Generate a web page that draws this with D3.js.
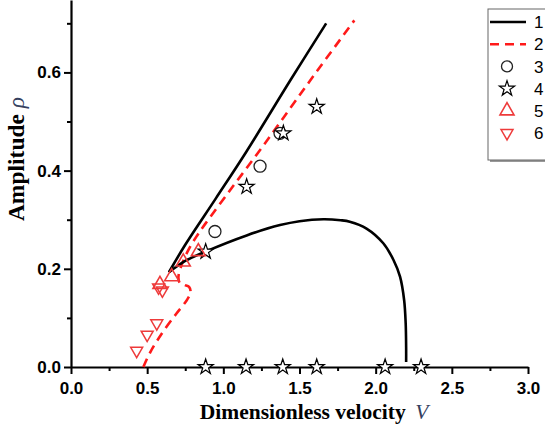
<!DOCTYPE html>
<html>
<head>
<meta charset="utf-8">
<script src="https://cdn.jsdelivr.net/npm/d3@7"></script>
<style>
  body { margin: 0; background: #fff; }
  .tick text { font-family: "Liberation Sans", Arial, sans-serif; font-weight: bold; font-size: 17px; fill: #000; }
</style>
</head>
<body>
<script>
// [V, rho] pairs
var curve1Upper = [[0.643,0.193],[0.75,0.249],[0.95,0.343],[1.15,0.438],[1.44,0.584],[1.675,0.70]];
var curve1Lower = [[0.643,0.193],[0.75,0.216],[0.89,0.236],[1.153,0.268],[1.372,0.289],[1.50,0.297],[1.657,0.301],[1.77,0.299],[1.83,0.296],[1.94,0.282],[2.05,0.252],[2.117,0.218],[2.16,0.184],[2.187,0.136],[2.197,0.089],[2.20,0.04],[2.20,0.01]];
var curve2 = [[0.475,0.0],[0.52,0.03],[0.60,0.07],[0.69,0.108],[0.76,0.136],[0.785,0.152],[0.775,0.163],[0.745,0.167],[0.715,0.171],[0.705,0.182],[0.725,0.207],[0.77,0.238],[0.82,0.264],[0.88,0.291],[1.044,0.36],[1.208,0.428],[1.372,0.498],[1.59,0.592],[1.86,0.706]];
var circles = [[0.945,0.276],[1.241,0.409],[1.372,0.476]];
var stars = [[0.884,0.235],[1.153,0.367],[1.394,0.476],[1.613,0.53],
             [0.884,0],[1.149,0],[1.39,0],[1.613,0],[2.062,0],[2.298,0]];
var triUp = [[0.584,0.168],[0.661,0.184],[0.737,0.214],[0.836,0.235]];
var triDown = [[0.431,0.033],[0.50,0.066],[0.563,0.089],[0.575,0.162],[0.60,0.156]];
var xTicks = [0, 0.5, 1, 1.5, 2, 2.5, 3];
var xMinor = [0.25, 0.75, 1.25, 1.75, 2.25, 2.75];
var yTicks = [0, 0.2, 0.4, 0.6];
var yMinor = [0.1, 0.3, 0.5, 0.7];
var legendLabels = ["1", "2", "3", "4", "5", "6"];

var W = 545, H = 430;
var red = "#ff1a1a", triRed = "#ee3a3a";

var svg = d3.select("body").append("svg")
  .attr("width", W).attr("height", H);

var x = d3.scaleLinear().domain([0, 3]).range([71, 528]);
var y = d3.scaleLinear().domain([0, 0.7475]).range([367, 0]);

// minor ticks first
svg.append("g").attr("transform", "translate(0,367)")
  .call(d3.axisBottom(x).tickValues(xMinor).tickSize(4).tickFormat(""))
  .call(function(g){ g.select(".domain").remove(); g.selectAll("line").attr("stroke-width", 2); });
svg.append("g").attr("transform", "translate(71,0)")
  .call(d3.axisLeft(y).tickValues(yMinor).tickSize(4).tickFormat(""))
  .call(function(g){ g.select(".domain").remove(); g.selectAll("line").attr("stroke-width", 2); });

var xAxis = svg.append("g").attr("transform", "translate(0,367)")
  .call(d3.axisBottom(x).tickValues(xTicks).tickSize(7).tickSizeOuter(0).tickPadding(8).tickFormat(d3.format(".1f")));
xAxis.select(".domain").attr("stroke-width", 2.2);
xAxis.selectAll(".tick line").attr("stroke-width", 2);

var yAxis = svg.append("g").attr("transform", "translate(71,0)")
  .call(d3.axisLeft(y).tickValues(yTicks).tickSize(7).tickSizeOuter(0).tickPadding(3).tickFormat(d3.format(".1f")));
yAxis.select(".domain").attr("stroke-width", 2.2);
yAxis.selectAll(".tick line").attr("stroke-width", 2);

// axis titles
var xt = svg.append("text")
  .attr("x", 314).attr("y", 419).attr("text-anchor", "middle")
  .style("font-family", "'Liberation Serif', 'Times New Roman', serif")
  .style("font-weight", "bold").style("font-size", "21.5px");
xt.append("tspan").text("Dimensionless velocity ");
xt.append("tspan").attr("dx", 4).style("font-style", "italic").style("font-weight", "normal").attr("fill", "#34405e").text("V");

var yt = svg.append("text")
  .attr("transform", "translate(24,159) rotate(-90)").attr("text-anchor", "middle")
  .style("font-family", "'Liberation Serif', 'Times New Roman', serif")
  .style("font-weight", "bold").style("font-size", "23.5px");
yt.append("tspan").text("Amplitude ");
yt.append("tspan").style("font-style", "italic").style("font-weight", "normal").attr("fill", "#34405e").text("\u03c1");

// curves
var smooth = d3.line().curve(d3.curveCatmullRom.alpha(0.5))
  .x(function(d){ return x(d[0]); }).y(function(d){ return y(d[1]); });

svg.append("path").datum(curve2).attr("d", smooth)
  .attr("fill", "none").attr("stroke", red).attr("stroke-width", 2.6)
  .attr("stroke-dasharray", "9,6");
svg.append("path").datum(curve1Upper).attr("d", smooth)
  .attr("fill", "none").attr("stroke", "#000").attr("stroke-width", 2.6);
svg.append("path").datum(curve1Lower).attr("d", smooth)
  .attr("fill", "none").attr("stroke", "#000").attr("stroke-width", 2.6);

// markers
var starSym = d3.symbol().type(d3.symbolStar).size(72);
var upSym = d3.symbol().type(d3.symbolTriangle).size(85);
var downSym = d3.symbol().type(d3.symbolTriangle).size(62);

svg.selectAll(".c3").data(circles).enter().append("circle")
  .attr("cx", function(d){ return x(d[0]); }).attr("cy", function(d){ return y(d[1]); })
  .attr("r", 6).attr("fill", "none").attr("stroke", "#222").attr("stroke-width", 1.3);

svg.selectAll(".s4").data(stars).enter().append("path")
  .attr("d", starSym)
  .attr("transform", function(d){ return "translate(" + x(d[0]) + "," + y(d[1]) + ")"; })
  .attr("fill", "#fff").attr("stroke", "#000").attr("stroke-width", 1.2);

svg.selectAll(".t5").data(triUp).enter().append("path")
  .attr("d", upSym)
  .attr("transform", function(d){ return "translate(" + x(d[0]) + "," + y(d[1]) + ")"; })
  .attr("fill", "none").attr("stroke", triRed).attr("stroke-width", 1.6);

svg.selectAll(".t6").data(triDown).enter().append("path")
  .attr("d", downSym)
  .attr("transform", function(d){ return "translate(" + x(d[0]) + "," + y(d[1]) + ") rotate(180)"; })
  .attr("fill", "none").attr("stroke", triRed).attr("stroke-width", 1.5);

// legend
var lg = svg.append("g");
lg.append("rect").attr("x", 490).attr("y", 11).attr("width", 70).attr("height", 151).attr("fill", "#999");
lg.append("rect").attr("x", 488).attr("y", 9).attr("width", 70).attr("height", 151)
  .attr("fill", "#fff").attr("stroke", "#666").attr("stroke-width", 1);

var ly = d3.scalePoint().domain(legendLabels).range([22, 133]);
var lx0 = 490, lx1 = 526, lxm = 507;

lg.append("line").attr("x1", lx0).attr("x2", lx1).attr("y1", ly("1")).attr("y2", ly("1"))
  .attr("stroke", "#000").attr("stroke-width", 2.6);
lg.append("line").attr("x1", lx0).attr("x2", lx1).attr("y1", ly("2")).attr("y2", ly("2"))
  .attr("stroke", red).attr("stroke-width", 2.6).attr("stroke-dasharray", "9,6");
lg.append("circle").attr("cx", lxm).attr("cy", ly("3")).attr("r", 5.5)
  .attr("fill", "none").attr("stroke", "#222").attr("stroke-width", 1.3);
lg.append("path").attr("d", starSym).attr("transform", "translate(" + lxm + "," + ly("4") + ")")
  .attr("fill", "#fff").attr("stroke", "#000").attr("stroke-width", 1.2);
lg.append("path").attr("d", upSym).attr("transform", "translate(" + lxm + "," + ly("5") + ")")
  .attr("fill", "none").attr("stroke", triRed).attr("stroke-width", 1.6);
lg.append("path").attr("d", downSym).attr("transform", "translate(" + lxm + "," + ly("6") + ") rotate(180)")
  .attr("fill", "none").attr("stroke", triRed).attr("stroke-width", 1.5);

lg.selectAll(".lt").data(legendLabels).enter().append("text")
  .attr("x", 534).attr("y", function(d){ return ly(d); }).attr("dy", "0.36em")
  .style("font-family", "'Liberation Sans', Arial, sans-serif").style("font-size", "17px")
  .text(function(d){ return d; });
</script>
</body>
</html>
